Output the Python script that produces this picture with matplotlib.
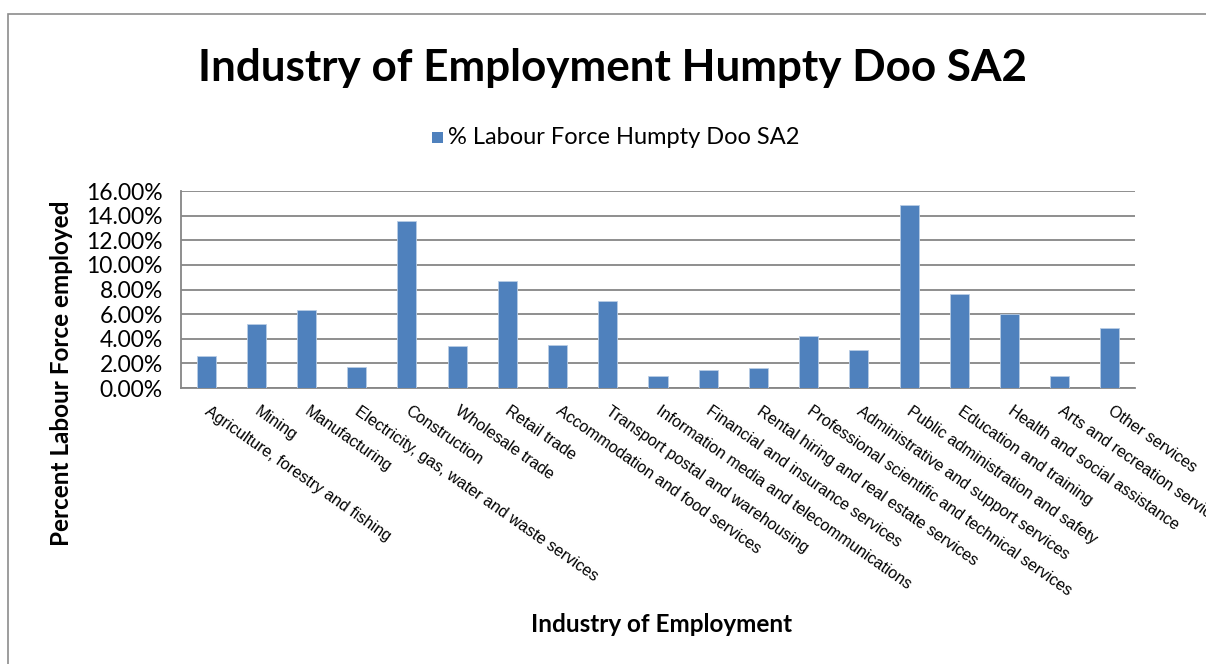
import matplotlib
matplotlib.use("Agg")
import matplotlib.pyplot as plt
from matplotlib.ticker import FuncFormatter, MultipleLocator
from matplotlib.patches import Rectangle
from matplotlib.transforms import ScaledTranslation

industries = [
    "Agriculture, forestry and fishing",
    "Mining",
    "Manufacturing",
    "Electricity, gas, water and waste services",
    "Construction",
    "Wholesale trade",
    "Retail trade",
    "Accommodation and food services",
    "Transport postal and warehousing",
    "Information media and telecommunications",
    "Financial and insurance services",
    "Rental hiring and real estate services",
    "Professional scientific and technical services",
    "Administrative and support services",
    "Public administration and safety",
    "Education and training",
    "Health and social assistance",
    "Arts and recreation services",
    "Other services",
]
labour_force_pct = [2.6, 5.2, 6.3, 1.7, 13.6, 3.4, 8.7, 3.5, 7.1, 1.0,
                    1.5, 1.6, 4.2, 3.1, 14.9, 7.6, 6.0, 1.0, 4.9]
series_name = "% Labour Force Humpty Doo SA2"

W, H = 1206, 664
fig = plt.figure(figsize=(W / 100, H / 100), dpi=100)
fig.patch.set_facecolor("white")

# outer chart-area border
fig.add_artist(Rectangle((8 / W, -0.01), 1.02, 1 - 14 / H + 0.01,
                         transform=fig.transFigure, fill=False,
                         edgecolor="#8c8c8c", linewidth=1.2))

left, right, top, bottom = 181, 1135, 191, 388
ax = fig.add_axes([left / W, 1 - bottom / H, (right - left) / W, (bottom - top) / H])

bar_color = "#4f81bd"
x = range(len(industries))
ax.bar(x, labour_force_pct, width=0.38, color=bar_color,
       edgecolor="#b9cde5", linewidth=0.6, zorder=3, label=series_name)

ax.set_xlim(-0.5, len(industries) - 0.5)
ax.set_ylim(0, 16)
ax.yaxis.set_major_locator(MultipleLocator(2))
ax.yaxis.set_major_formatter(FuncFormatter(lambda v, p: f"{v:.2f}%"))
ax.grid(axis="y", color="#868686", linewidth=1.3, zorder=0)
ax.set_axisbelow(True)

for s in ["top", "right"]:
    ax.spines[s].set_visible(False)
for s in ["left", "bottom"]:
    ax.spines[s].set_color("#868686")
    ax.spines[s].set_linewidth(1.3)

ax.tick_params(axis="y", length=0, pad=13, labelsize=16.5)
ax.tick_params(axis="x", length=0, pad=11)
for lbl in ax.get_yticklabels():
    lbl.set_family("Lato")

ax.set_xticks(list(x))
ax.set_xticklabels(industries, rotation=-35, ha="left", va="top",
                   rotation_mode="anchor", fontsize=11.6,
                   family="Liberation Sans")
shift = ScaledTranslation(4 / 100, 0, fig.dpi_scale_trans)
for lbl in ax.get_xticklabels():
    lbl.set_transform(lbl.get_transform() + shift)

fig.text(613 / W, 1 - 68 / H, "Industry of Employment Humpty Doo SA2",
         ha="center", va="center", fontsize=31.7, fontweight="bold", family="Lato")

fig.text(662 / W, 1 - 625 / H, "Industry of Employment",
         ha="center", va="center", fontsize=17.5, fontweight="bold", family="Lato")
fig.text(62 / W, 1 - 373 / H, "Percent Labour Force employed",
         ha="center", va="center", rotation=90, fontsize=17.5,
         fontweight="bold", family="Lato")

# legend
fig.add_artist(Rectangle((432 / W, 1 - 143 / H), 11 / W, 11 / H,
                         transform=fig.transFigure, facecolor=bar_color,
                         edgecolor="none"))
fig.text(448 / W, 1 - 137 / H, series_name, ha="left", va="center",
         fontsize=17, family="Lato")

fig.savefig("out.png", dpi=100)
